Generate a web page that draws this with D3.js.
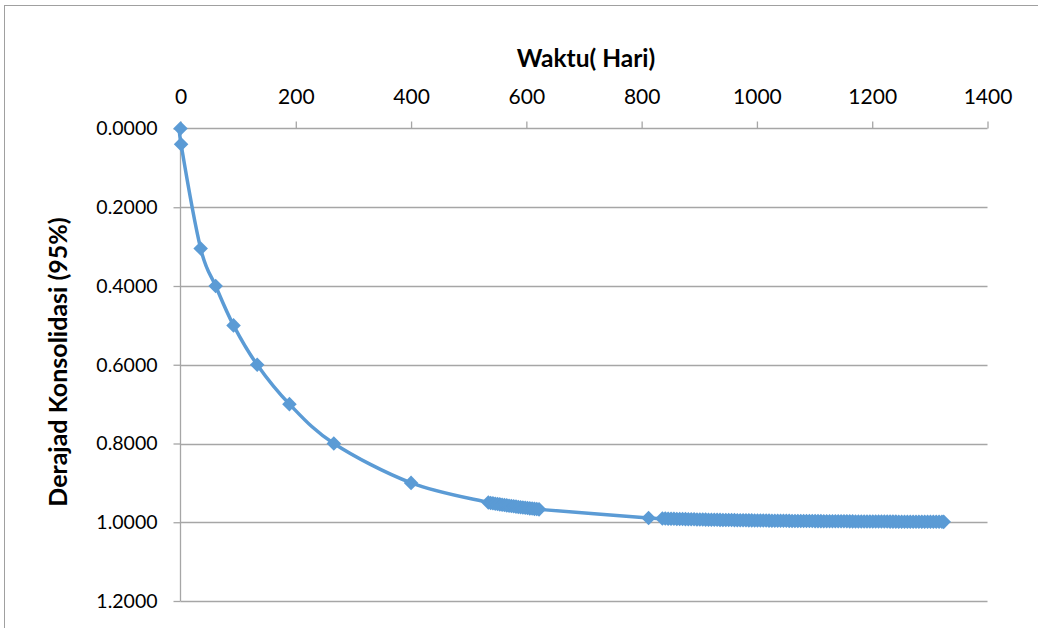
<!DOCTYPE html>
<html>
<head>
<meta charset="utf-8">
<script src="https://cdn.jsdelivr.net/npm/d3@7"></script>
<style>
  html, body { margin: 0; padding: 0; background: #fff; }
  svg { display: block; }
  text { font-family: Lato, "Open Sans", sans-serif; fill: #000; }
</style>
</head>
<body>
<svg id="chart" width="1038" height="628"></svg>
<script>
// Time since start of loading, in days
const waktuHari = [
  0, 1, 35, 61, 92, 133, 189, 266, 400,
  534, 538, 542, 546, 550, 554, 558, 562, 566, 570, 574, 578,
  582, 586, 590, 594, 598, 602, 606, 610, 614, 618, 622,
  812,
  836, 841, 846, 851, 856, 861, 866, 871, 876, 881, 886, 891, 896, 901, 906, 911,
  916, 921, 926, 931, 936, 941, 946, 951, 956, 961, 966, 971, 976, 981, 986, 991,
  996, 1001, 1006, 1011, 1016, 1021, 1026, 1031, 1036, 1041, 1046, 1051, 1056, 1061, 1066, 1071,
  1076, 1081, 1086, 1091, 1096, 1101, 1106, 1111, 1116, 1121, 1126, 1131, 1136, 1141, 1146, 1151,
  1156, 1161, 1166, 1171, 1176, 1181, 1186, 1191, 1196, 1201, 1206, 1211, 1216, 1221, 1226, 1231,
  1236, 1241, 1246, 1251, 1256, 1261, 1266, 1271, 1276, 1281, 1286, 1291, 1296, 1301, 1306, 1311,
  1316, 1321, 1324
];
// Degree of consolidation reached at each time
const derajatKonsolidasi = [
  0.0000, 0.0400, 0.3050, 0.4000, 0.5000, 0.6000, 0.7000, 0.8000, 0.9000,
  0.9500, 0.9510, 0.9519, 0.9528, 0.9537, 0.9546, 0.9555, 0.9564, 0.9572, 0.9580, 0.9588, 0.9596,
  0.9603, 0.9611, 0.9618, 0.9626, 0.9633, 0.9640, 0.9647, 0.9653, 0.9660, 0.9666, 0.9673,
  0.9890,
  0.9905, 0.9907, 0.9909, 0.9911, 0.9913, 0.9915, 0.9917, 0.9919, 0.9921, 0.9923, 0.9925, 0.9926, 0.9928, 0.9930, 0.9931, 0.9933,
  0.9934, 0.9936, 0.9937, 0.9939, 0.9940, 0.9941, 0.9943, 0.9944, 0.9945, 0.9946, 0.9948, 0.9949, 0.9950, 0.9951, 0.9952, 0.9953,
  0.9954, 0.9955, 0.9956, 0.9957, 0.9958, 0.9959, 0.9960, 0.9961, 0.9962, 0.9962, 0.9963, 0.9964, 0.9965, 0.9966, 0.9966, 0.9967,
  0.9968, 0.9968, 0.9969, 0.9970, 0.9970, 0.9971, 0.9972, 0.9972, 0.9973, 0.9973, 0.9974, 0.9975, 0.9975, 0.9976, 0.9976, 0.9977,
  0.9977, 0.9978, 0.9978, 0.9979, 0.9979, 0.9980, 0.9980, 0.9980, 0.9981, 0.9981, 0.9982, 0.9982, 0.9982, 0.9983, 0.9983, 0.9984,
  0.9984, 0.9984, 0.9985, 0.9985, 0.9985, 0.9986, 0.9986, 0.9986, 0.9987, 0.9987, 0.9987, 0.9988, 0.9988, 0.9988, 0.9988, 0.9989,
  0.9989, 0.9989, 0.9990
];
const xTicks = [0, 200, 400, 600, 800, 1000, 1200, 1400];
const yTicks = [0, 0.2, 0.4, 0.6, 0.8, 1.0, 1.2];

const data = waktuHari.map((t, i) => ({ t, u: derajatKonsolidasi[i] }));

const svg = d3.select("#chart");
const lineColor = "#5B9BD5";
const gridColor = "#A6A6A6";
const fontStack = "Lato, 'Open Sans', sans-serif";

// Outer chart frame
svg.append("rect")
  .attr("x", 4.5).attr("y", 5.5)
  .attr("width", 1100).attr("height", 700)
  .attr("fill", "none").attr("stroke", "#A0A0A0").attr("stroke-width", 1);

const x = d3.scaleLinear().domain([0, 1400]).range([180.5, 987.5]);
const y = d3.scaleLinear().domain([0, 1.2]).range([128.5, 601]);

// Horizontal gridlines (y axis reversed: 0 at top)
svg.append("g")
  .selectAll("line")
  .data(yTicks.slice(1))
  .join("line")
  .attr("x1", x(0)).attr("x2", x(1400))
  .attr("y1", d => Math.round(y(d)) + 0.5).attr("y2", d => Math.round(y(d)) + 0.5)
  .attr("stroke", gridColor).attr("stroke-width", 1.3);

// X axis along the top
const xAxis = svg.append("g")
  .attr("transform", `translate(0,${y(0)})`)
  .call(d3.axisTop(x).tickValues(xTicks).tickSize(7).tickPadding(18).tickFormat(d3.format("d")));
xAxis.select(".domain").attr("stroke", gridColor).attr("stroke-width", 1.3)
  .attr("d", `M${x(0)},0H${x(1400)}`);
xAxis.selectAll(".tick line").attr("stroke", gridColor).attr("stroke-width", 1.3);
xAxis.selectAll(".tick text").style("font-size", "21px").style("font-family", fontStack).attr("fill", "#000");

// Y axis on the left
const yAxis = svg.append("g")
  .attr("transform", `translate(${x(0)},0)`)
  .call(d3.axisLeft(y).tickValues(yTicks).tickSize(7).tickPadding(16).tickFormat(d3.format(".4f")));
yAxis.select(".domain").attr("stroke", gridColor).attr("stroke-width", 1.3)
  .attr("d", `M0,${y(0)}V${y(1.2)}`);
yAxis.selectAll(".tick line").attr("stroke", gridColor).attr("stroke-width", 1.3);
yAxis.selectAll(".tick text").style("font-size", "19.5px").style("font-family", fontStack).attr("fill", "#000");

// Axis titles
svg.append("text")
  .attr("x", 586).attr("y", 67)
  .attr("text-anchor", "middle")
  .style("font-size", "24.5px").style("font-weight", "bold")
  .text("Waktu( Hari)");

svg.append("text")
  .attr("transform", "translate(67,362) rotate(-90)")
  .attr("text-anchor", "middle")
  .style("font-size", "25px").style("font-weight", "bold")
  .text("Derajad Konsolidasi (95%)");

// Smoothed consolidation curve
const line = d3.line()
  .x(d => x(d.t)).y(d => y(d.u))
  .curve(d3.curveCardinal.tension(0));

svg.append("path")
  .datum(data)
  .attr("d", line)
  .attr("fill", "none")
  .attr("stroke", lineColor)
  .attr("stroke-width", 3.5)
  .attr("stroke-linejoin", "round");

// Diamond markers
const diamond = d3.symbol().type(d3.symbolDiamond2).size(135);
svg.append("g")
  .selectAll("path")
  .data(data)
  .join("path")
  .attr("transform", d => `translate(${x(d.t)},${y(d.u)})`)
  .attr("d", diamond)
  .attr("fill", lineColor);
</script>
</body>
</html>
